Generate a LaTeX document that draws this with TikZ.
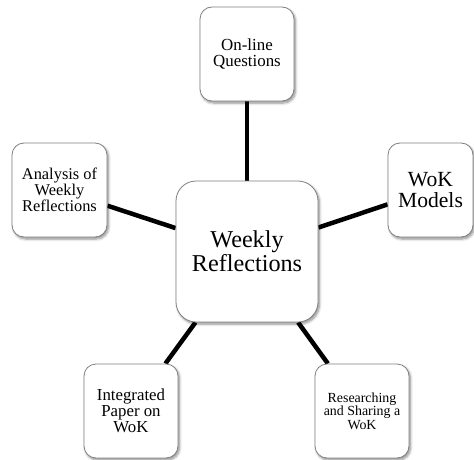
\documentclass[tikz,border=0pt]{standalone}
\usepackage{fontspec}
\setmainfont{Liberation Serif}
\usetikzlibrary{shadows.blur,backgrounds}
\begin{document}
\begin{tikzpicture}[x=1pt,y=-1pt,
  box/.style={draw=black!50, line width=0.8pt, fill=white, rounded corners=12pt,
    inner sep=0pt, align=center, text=black,
    blur shadow={shadow xshift=1.5pt, shadow yshift=-2pt, shadow blur steps=6, shadow blur radius=2.5pt, shadow opacity=45}},
  link/.style={line width=4.5pt, black}]
\useasboundingbox (0,0) rectangle (474,460);
\node[box, minimum width=142pt, minimum height=141pt, rounded corners=20pt,
  font=\fontsize{24.2}{24.2}\selectfont] (c) at (247,251.5) {Weekly\\Reflections};
\node[box, minimum width=94pt, minimum height=94pt,
  font=\fontsize{16.9}{16.4}\selectfont] (t) at (247,54) {On-line\\Questions};
\node[box, minimum width=95pt, minimum height=94pt,
  font=\fontsize{16.4}{15.9}\selectfont] (l) at (59.5,190) {Analysis of\\Weekly\\Reflections};
\node[box, minimum width=85pt, minimum height=94pt,
  font=\fontsize{21.6}{21.6}\selectfont] (r) at (430.5,190) {WoK\\Models};
\node[box, minimum width=94pt, minimum height=94pt,
  font=\fontsize{16.8}{16}\selectfont] (bl) at (131,411) {Integrated\\Paper on\\WoK};
\node[box, minimum width=94pt, minimum height=94pt,
  font=\fontsize{13.9}{13.6}\selectfont] (br) at (362,411) {Researching\\and Sharing a\\WoK};
\begin{scope}[on background layer]
\draw[link] (c) -- (t);
\draw[link] (c) -- (l);
\draw[link] (c) -- (r);
\draw[link] (c) -- (bl);
\draw[link] (c) -- (br);
\end{scope}
\end{tikzpicture}
\end{document}
